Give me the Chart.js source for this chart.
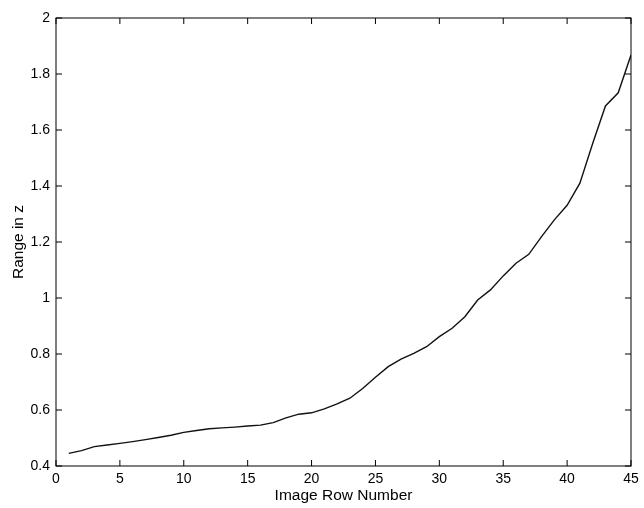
<!DOCTYPE html>
<html>
<head>
<meta charset="utf-8">
<script src="https://cdn.jsdelivr.net/npm/chart.js@4/dist/chart.umd.min.js"></script>
<style>
  html, body { margin: 0; padding: 0; background: #fff; }
  #wrap { position: relative; width: 644px; height: 508px; }
</style>
</head>
<body>
<div id="wrap"><canvas id="chart" width="644" height="508"></canvas></div>
<script>
// image row number (x) and range in z (y)
const rows = [1, 2, 3, 4, 5, 6, 7, 8, 9, 10, 11, 12, 13, 14, 15, 16, 17, 18, 19, 20,
  21, 22, 23, 24, 25, 26, 27, 28, 29, 30, 31, 32, 33, 34, 35, 36, 37, 38, 39, 40,
  41, 42, 43, 44, 45];
const rangeZ = [0.445, 0.455, 0.469, 0.475, 0.481, 0.487, 0.494, 0.502, 0.510, 0.520,
  0.527, 0.533, 0.536, 0.539, 0.543, 0.546, 0.555, 0.572, 0.585, 0.590,
  0.604, 0.622, 0.642, 0.677, 0.717, 0.755, 0.782, 0.802, 0.826, 0.862,
  0.892, 0.933, 0.993, 1.029, 1.079, 1.124, 1.156, 1.219, 1.279, 1.331,
  1.41, 1.552, 1.686, 1.733, 1.868];
const xTicks = [0, 5, 10, 15, 20, 25, 30, 35, 40, 45];
const yTicks = [0.4, 0.6, 0.8, 1, 1.2, 1.4, 1.6, 1.8, 2];

const family = "'Liberation Sans', Arial, sans-serif";
const tickFont = { family, size: 14 };
const titleFont = { family, size: 15.5 };

// matlab style box with ticks pointing inwards
const boxTicks = {
  id: "boxTicks",
  afterDraw: (chart) => {
    const { ctx, chartArea, scales } = chart;
    const len = 6;
    ctx.save();
    ctx.strokeStyle = "#000";
    ctx.lineWidth = 1;
    ctx.strokeRect(chartArea.left, chartArea.top,
      chartArea.right - chartArea.left, chartArea.bottom - chartArea.top);
    ctx.beginPath();
    xTicks.forEach((v) => {
      const px = scales.x.getPixelForValue(v);
      ctx.moveTo(px, chartArea.bottom);
      ctx.lineTo(px, chartArea.bottom - len);
      ctx.moveTo(px, chartArea.top);
      ctx.lineTo(px, chartArea.top + len);
    });
    yTicks.forEach((v) => {
      const py = scales.y.getPixelForValue(v);
      ctx.moveTo(chartArea.left, py);
      ctx.lineTo(chartArea.left + len, py);
      ctx.moveTo(chartArea.right, py);
      ctx.lineTo(chartArea.right - len, py);
    });
    ctx.stroke();
    ctx.restore();
  },
};

new Chart(document.getElementById("chart").getContext("2d"), {
  type: "line",
  data: {
    datasets: [{
      data: rows.map((r, i) => ({ x: r, y: rangeZ[i] })),
      borderColor: "#111",
      borderWidth: 1.4,
      pointRadius: 0,
      tension: 0,
      fill: false,
    }],
  },
  options: {
    responsive: false,
    animation: false,
    layout: { padding: { top: 18, right: 13, left: 0, bottom: 0 } },
    plugins: { legend: { display: false }, tooltip: { enabled: false } },
    scales: {
      x: {
        type: "linear",
        min: 0,
        max: 45,
        afterBuildTicks: (s) => { s.ticks = xTicks.map((v) => ({ value: v })); },
        afterFit: (s) => { s.height = 42; },
        grid: { display: false, drawTicks: false },
        border: { display: false },
        ticks: { color: "#000", font: tickFont, padding: 5, maxRotation: 0 },
        title: { display: true, text: "Image Row Number", color: "#000", font: titleFont, padding: { top: 0, bottom: 3 } },
      },
      y: {
        type: "linear",
        min: 0.4,
        max: 2,
        afterBuildTicks: (s) => { s.ticks = yTicks.map((v) => ({ value: v })); },
        afterFit: (s) => { s.width = 56; },
        grid: { display: false, drawTicks: false },
        border: { display: false },
        ticks: { color: "#000", font: tickFont, padding: 6, callback: (v) => String(Math.round(v * 10) / 10) },
        title: { display: true, text: "Range in z", color: "#000", font: titleFont, padding: { top: 9, bottom: 4 } },
      },
    },
  },
  plugins: [boxTicks],
});
</script>
</body>
</html>
